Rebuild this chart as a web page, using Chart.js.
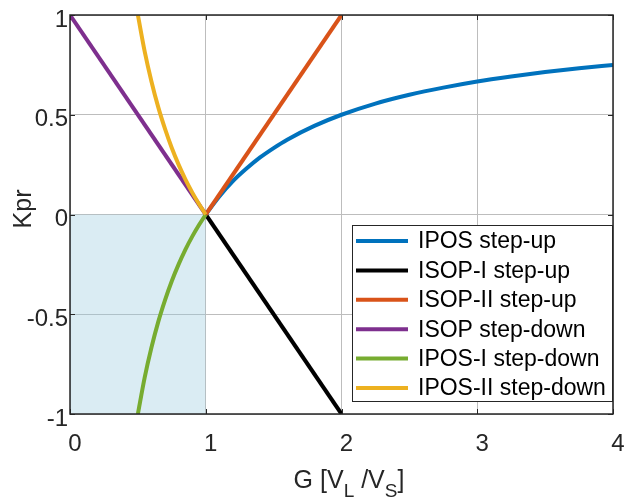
<!DOCTYPE html>
<html>
<head>
<meta charset="utf-8">
<script src="https://cdn.jsdelivr.net/npm/chart.js@4.4.0/dist/chart.umd.min.js"></script>
<style>
html,body{margin:0;padding:0;background:#fff;}
canvas{display:block;}
</style>
</head>
<body>
<canvas id="c" width="625" height="502"></canvas>
<script>
// ---- data ----
const seriesNames = ["IPOS step-up","ISOP-I step-up","ISOP-II step-up","ISOP step-down","IPOS-I step-down","IPOS-II step-down"];
const seriesColors = ["#0072BD","#000000","#D95319","#7E2F8E","#77AC30","#EDB120"];

const gIposUp   = [1, 1.1, 1.2, 1.3, 1.4, 1.5, 1.6, 1.8, 2, 2.25, 2.5, 2.75, 3, 3.25, 3.5, 3.75, 4];
const kIposUp   = [0, 0.09, 0.167, 0.23, 0.286, 0.333, 0.375, 0.444, 0.5, 0.556, 0.6, 0.636, 0.667, 0.692, 0.714, 0.733, 0.75];

const gIsopIUp  = [1, 2];
const kIsopIUp  = [0, -1];

const gIsopIIUp = [1, 2];
const kIsopIIUp = [0, 1];

const gIsopDown = [0, 1];
const kIsopDown = [1, 0];

const gIposIDown = [0.5, 0.55, 0.6, 0.65, 0.7, 0.75, 0.8, 0.85, 0.9, 0.95, 1];
const kIposIDown = [-1, -0.818, -0.667, -0.538, -0.429, -0.333, -0.25, -0.176, -0.111, -0.053, 0];

const gIposIIDown = [0.5, 0.55, 0.6, 0.65, 0.7, 0.75, 0.8, 0.85, 0.9, 0.95, 1];
const kIposIIDown = [1, 0.818, 0.667, 0.538, 0.429, 0.333, 0.25, 0.176, 0.111, 0.053, 0];

const shadeG = [0, 1];
const shadeK = [0, 0];

const xTicks = [0, 1, 2, 3, 4];
const xTickLabels = ["0", "1", "2", "3", "4"];
const yTicks = [-1, -0.5, 0, 0.5, 1];
const yTickLabels = ["-1", "-0.5", "0", "0.5", "1"];

// ---- build ----
const pts = (xs, ys) => xs.map((x, i) => ({x: x, y: ys[i]}));
const seriesX = [gIposUp, gIsopIUp, gIsopIIUp, gIsopDown, gIposIDown, gIposIIDown];
const seriesY = [kIposUp, kIsopIUp, kIsopIIUp, kIsopDown, kIposIDown, kIposIIDown];

const datasets = seriesNames.map((name, i) => ({
  label: name,
  data: pts(seriesX[i], seriesY[i]),
  borderColor: seriesColors[i],
  backgroundColor: seriesColors[i],
  borderWidth: 4,
  pointRadius: 0,
  showLine: true,
  fill: false,
  cubicInterpolationMode: 'monotone',
  order: seriesNames.length - i,
  clip: 0
}));
datasets.push({
  label: "_shade",
  data: pts(shadeG, shadeK),
  borderWidth: 0,
  borderColor: 'rgba(0,0,0,0)',
  backgroundColor: 'rgba(150,200,220,0.35)',
  pointRadius: 0,
  showLine: true,
  fill: 'start',
  order: 100
});

const FONT = "'Liberation Sans', Arial, Helvetica, sans-serif";
const TXT = '#262626';

const framePlugin = {
  id: 'frame',
  afterDatasetsDraw(chart) {
    const {ctx, chartArea: a, scales} = chart;
    ctx.save();
    // inner ticks
    ctx.strokeStyle = TXT;
    ctx.lineWidth = 1;
    ctx.beginPath();
    xTicks.forEach(v => {
      const px = Math.round(scales.x.getPixelForValue(v)) + 0.5;
      ctx.moveTo(px, a.bottom); ctx.lineTo(px, a.bottom - 5);
      ctx.moveTo(px, a.top); ctx.lineTo(px, a.top + 5);
    });
    yTicks.forEach(v => {
      const py = Math.round(scales.y.getPixelForValue(v)) + 0.5;
      ctx.moveTo(a.left, py); ctx.lineTo(a.left + 5, py);
      ctx.moveTo(a.right, py); ctx.lineTo(a.right - 5, py);
    });
    ctx.stroke();
    // box
    ctx.lineWidth = 1.5;
    ctx.strokeRect(a.left, a.top, a.right - a.left, a.bottom - a.top);

    // legend
    const lx = 352, ly = 225, lw = 260, lh = 176;
    ctx.fillStyle = '#fff';
    ctx.fillRect(lx, ly, lw, lh);
    ctx.lineWidth = 1;
    ctx.strokeStyle = TXT;
    ctx.strokeRect(lx + 0.5, ly + 0.5, lw, lh);
    ctx.font = "23px " + FONT;
    ctx.textBaseline = 'middle';
    ctx.textAlign = 'left';
    seriesNames.forEach((n, i) => {
      const cy = 241 + i * 29.4;
      ctx.strokeStyle = seriesColors[i];
      ctx.lineWidth = 4;
      ctx.beginPath();
      ctx.moveTo(356, cy); ctx.lineTo(408, cy);
      ctx.stroke();
      ctx.fillStyle = '#000';
      ctx.fillText(n, 418, cy + 1);
    });

    // axis titles
    ctx.fillStyle = TXT;
    ctx.textBaseline = 'alphabetic';
    // x title with subscripts: G [V_L /V_S]
    const parts = [
      {t: "G [V", sub: false},
      {t: "L", sub: true},
      {t: " /V", sub: false},
      {t: "S", sub: true},
      {t: "]", sub: false}
    ];
    const mainF = "25px " + FONT, subF = "19px " + FONT;
    let total = 0;
    parts.forEach(p => { ctx.font = p.sub ? subF : mainF; total += ctx.measureText(p.t).width; });
    let x = 349 - total / 2;
    parts.forEach(p => {
      ctx.font = p.sub ? subF : mainF;
      ctx.fillText(p.t, x, p.sub ? 497 : 488);
      x += ctx.measureText(p.t).width;
    });
    // y title
    ctx.font = "25px " + FONT;
    ctx.translate(31, 209);
    ctx.rotate(-Math.PI / 2);
    ctx.textAlign = 'center';
    ctx.fillText("Kpr", 0, 0);
    ctx.restore();
  }
};

new Chart(document.getElementById('c'), {
  type: 'scatter',
  data: {datasets: datasets},
  options: {
    responsive: false,
    animation: false,
    devicePixelRatio: 1,
    layout: {padding: {top: 15, right: 0, left: 0, bottom: 0}},
    plugins: {legend: {display: false}, tooltip: {enabled: false}},
    scales: {
      x: {
        type: 'linear', min: 0, max: 4,
        afterBuildTicks: s => { s.ticks = xTicks.map(v => ({value: v})); },
        afterFit: s => { s.height = 88; s.paddingRight = 12; s.paddingLeft = 0; },
        grid: {color: '#bdbdbd', lineWidth: 1, drawTicks: false},
        border: {display: false},
        ticks: {
          font: {family: FONT, size: 24},
          color: TXT,
          padding: 16,
          labelOffset: 5,
          maxRotation: 0,
          callback: (v) => xTickLabels[xTicks.indexOf(v)]
        }
      },
      y: {
        type: 'linear', min: -1, max: 1,
        afterBuildTicks: s => { s.ticks = yTicks.map(v => ({value: v})); },
        afterFit: s => { s.width = 70; s.paddingTop = 0; s.paddingBottom = 0; },
        grid: {color: '#bdbdbd', lineWidth: 1, drawTicks: false},
        border: {display: false},
        ticks: {
          font: {family: FONT, size: 24},
          color: TXT,
          padding: 2,
          labelOffset: 5,
          callback: (v) => yTickLabels[yTicks.indexOf(v)]
        }
      }
    }
  },
  plugins: [framePlugin]
});
</script>
</body>
</html>
